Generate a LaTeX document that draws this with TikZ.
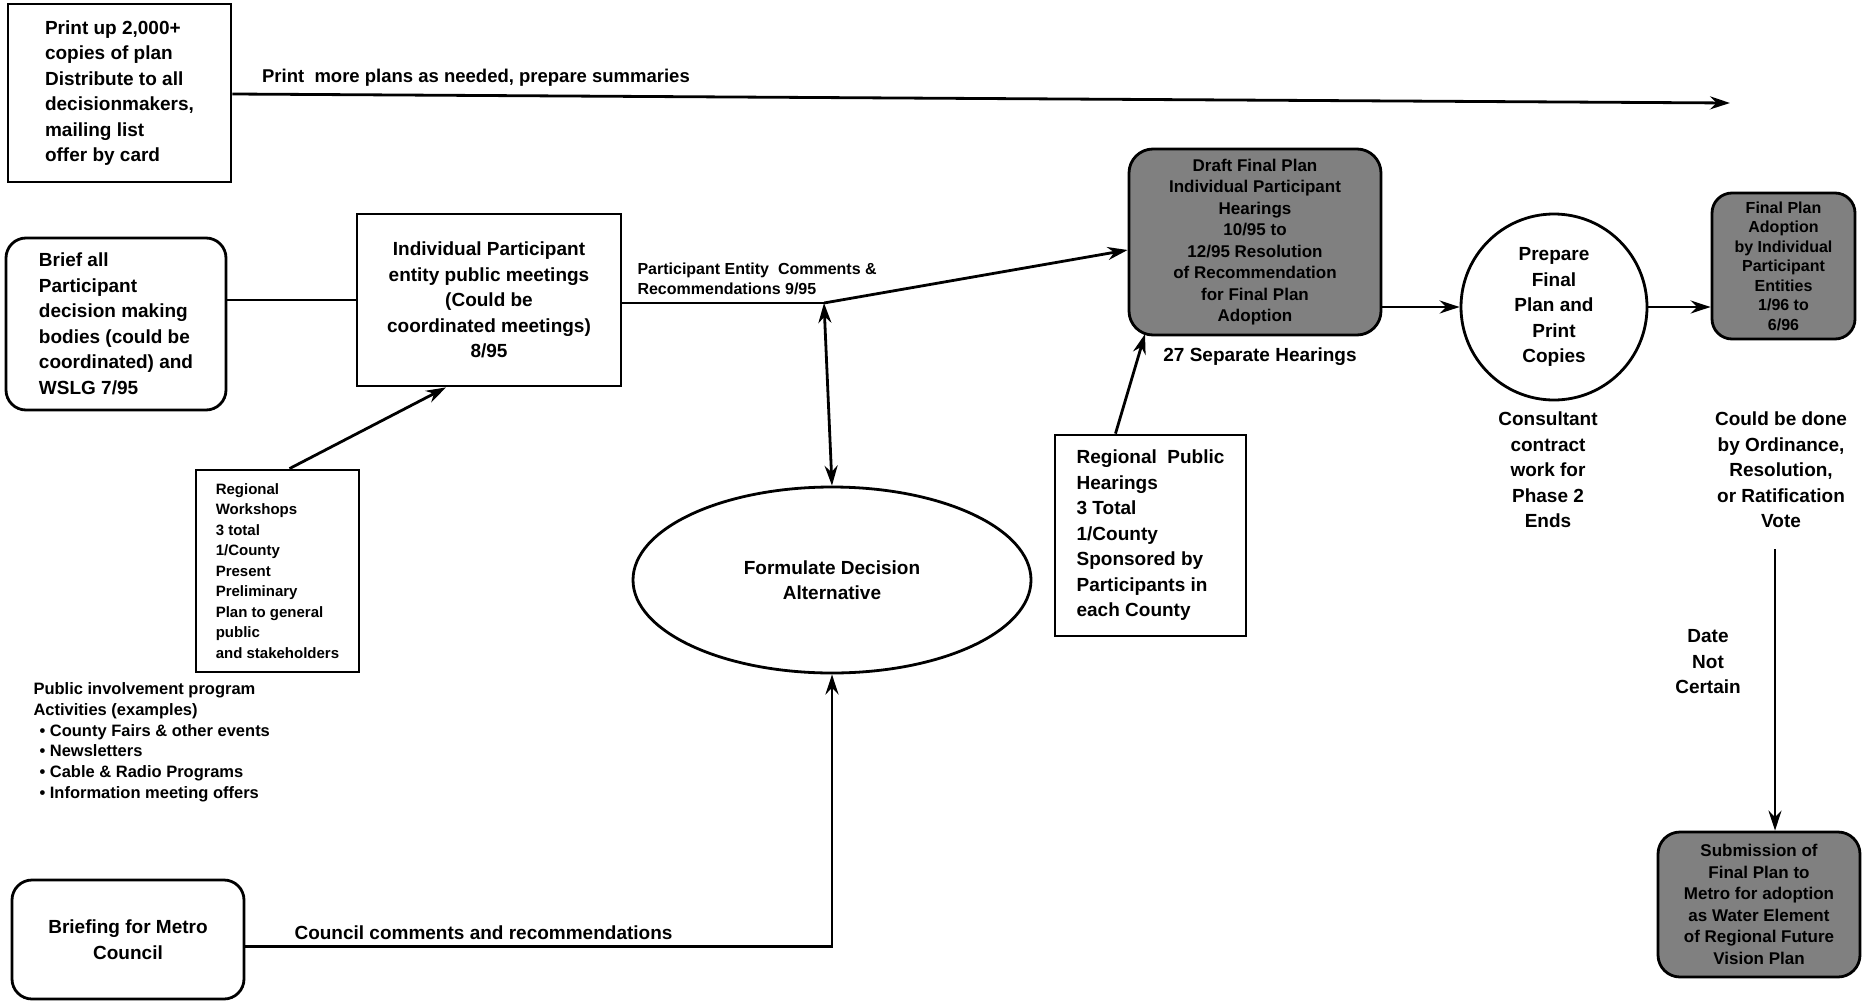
\documentclass[tikz,border=0pt]{standalone}
\usepackage{fontspec}
\setmainfont{Liberation Sans}
\usetikzlibrary{arrows.meta,calc,shapes.geometric}
\begin{document}
\begin{tikzpicture}[x=1pt,y=-1pt,
  every node/.style={font=\fontsize{19}{25.5}\selectfont\bfseries},
  box/.style={draw,line width=2.8pt,inner sep=0pt},
  rbox/.style={box,rounded corners=20pt},
  dark/.style={draw,line width=2.8pt,rounded corners=24pt,fill=black!50,inner sep=0pt,align=center,font=\fontsize{17}{21.5}\selectfont\bfseries},
  small/.style={font=\fontsize{15}{20.5}\selectfont\bfseries},
  mid/.style={font=\fontsize{18.5}{24}\selectfont\bfseries},
  conn/.style={line width=2.8pt},
  arr/.style={conn,-{Stealth[length=20pt,width=13pt]}},
  darr/.style={conn,{Stealth[length=20pt,width=13pt]}-{Stealth[length=20pt,width=13pt]}},
]
\useasboundingbox (0,0) rectangle (1864,1004);

% boxes
\node[box,minimum width=223pt,minimum height=178pt,align=left] (print) at (119.5,93)
  {Print up 2,000+\\copies of plan\\Distribute to all\\decisionmakers,\\mailing list\\offer by card};
\node[rbox,minimum width=220pt,minimum height=172pt,align=left] (brief) at (116,324)
  {Brief all\\Participant\\decision making\\bodies (could be\\coordinated) and\\WSLG 7/95};
\node[box,minimum width=264pt,minimum height=172pt,align=center] (indiv) at (489,300)
  {Individual Participant\\entity public meetings\\(Could be\\coordinated meetings)\\8/95};
\node[box,small,minimum width=163pt,minimum height=202pt,align=left] (work) at (277.5,571)
  {Regional\\Workshops\\3 total\\1/County\\Present\\Preliminary\\Plan to general\\public\\and stakeholders};
\node[anchor=north west,align=left,font=\fontsize{16.5}{20.8}\selectfont\bfseries] (pub) at (30,679)
  {Public involvement program\\Activities (examples)\\\hspace*{6pt}• County Fairs \& other events\\\hspace*{6pt}• Newsletters\\\hspace*{6pt}• Cable \& Radio Programs\\\hspace*{6pt}• Information meeting offers};
\node[rbox,minimum width=232pt,minimum height=119pt,align=center] (metro) at (128,939.5)
  {Briefing for Metro\\Council};
\node[draw,ellipse,line width=2.8pt,minimum width=398pt,minimum height=186pt,inner sep=0pt,align=center] (form) at (832,580)
  {Formulate Decision\\Alternative};
\node[dark,minimum width=252pt,minimum height=186pt] (draft) at (1255,242)
  {Draft Final Plan\\Individual Participant\\Hearings\\10/95 to\\12/95 Resolution\\of Recommendation\\for Final Plan\\Adoption};
\node[box,minimum width=191pt,minimum height=201pt,align=left] (rph) at (1150.5,535.5)
  {Regional\ \ Public\\Hearings\\3 Total\\1/County\\Sponsored by\\Participants in\\each County};
\node[draw,circle,line width=2.8pt,minimum size=186pt,inner sep=0pt,align=center] (prep) at (1554,307)
  {Prepare\\Final\\Plan and\\Print\\Copies};
\node[dark,minimum width=143pt,minimum height=146pt,rounded corners=20pt,font=\fontsize{16}{19.5}\selectfont\bfseries] (final) at (1783.5,266)
  {Final Plan\\Adoption\\by Individual\\Participant\\Entities\\1/96 to\\6/96};
\node[dark,minimum width=202pt,minimum height=145pt,rounded corners=22pt] (sub) at (1759,904.5)
  {Submission of\\Final Plan to\\Metro for adoption\\as Water Element\\of Regional Future\\Vision Plan};

% free labels
\node (sep) at (1260,357) {27 Separate Hearings};
\node[align=center] (cons) at (1548,470) {Consultant\\contract\\work for\\Phase 2\\Ends};
\node[align=center] (done) at (1781,470) {Could be done\\by Ordinance,\\Resolution,\\or Ratification\\Vote};
\node[align=center] (date) at (1708,662) {Date\\Not\\Certain};

% coordinates
\coordinate (topend) at (1730,103);
\coordinate (J) at (824,303);
\coordinate (vstart) at (1775,549);

% connectors
\draw[arr] (print.east |- 0,94) -- node[mid,pos=0,anchor=south west,xshift=25pt,yshift=3pt] {Print\ \ more plans as needed, prepare summaries} (topend);
\draw[conn] (indiv.west) -- (indiv.west -| brief.east);
\draw[arr] ([xshift=12pt]work.north) -- ([xshift=-43pt]indiv.south);
\draw[conn] (indiv.east |- J) -- (J);
\draw[arr] (J) -- ([yshift=-8pt]draft.west);
\node[anchor=south west,align=left,font=\fontsize{16}{20}\selectfont\bfseries] (pec) at (634,298) {Participant Entity\ \ Comments \&\\Recommendations 9/95};
\draw[darr] (J) -- (form.north);
\draw[arr] ([yshift=-7pt]metro.east) -| (form.south);
\node[font=\fontsize{19}{24}\selectfont\bfseries,anchor=base west] (ccr) at (291,939) {Council comments and recommendations};
\draw[arr] ([xshift=-35pt]rph.north) -- (1145,334);
\draw[arr] (prep.west -| draft.east) -- (prep.west);
\draw[arr] (prep.east) -- (prep.east -| final.west);
\draw[arr] (vstart) -- (vstart |- sub.north);
\end{tikzpicture}
\end{document}
